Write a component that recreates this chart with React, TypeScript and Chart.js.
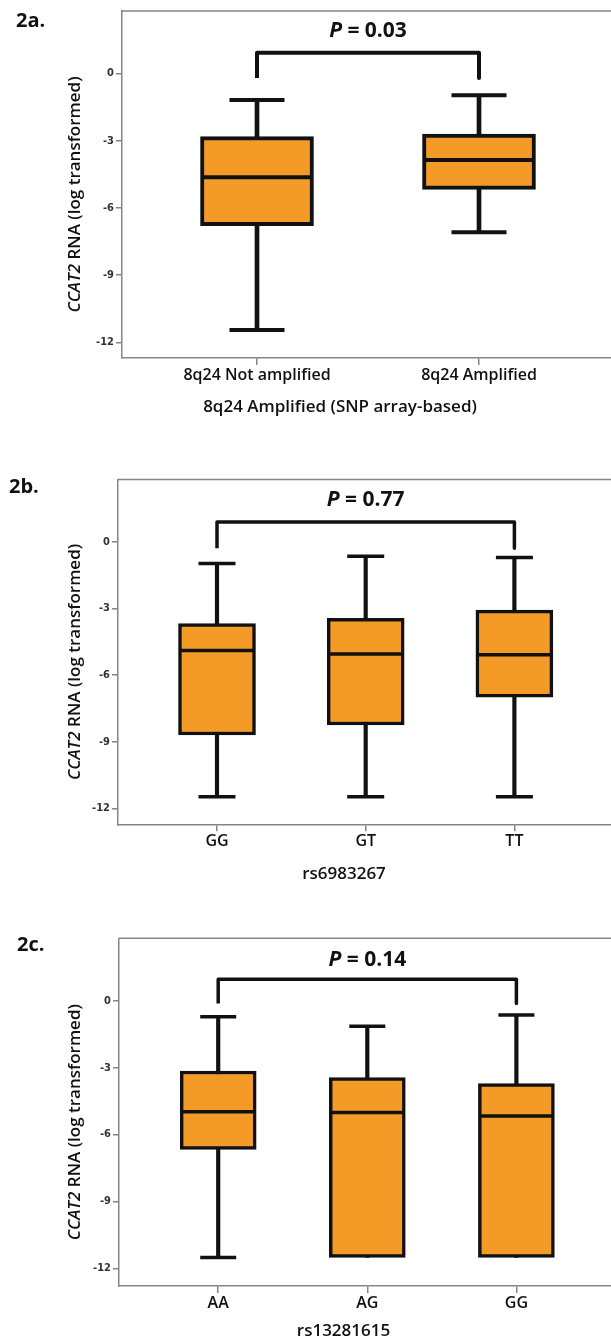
import React, { useEffect, useRef } from "react";
import { Chart, registerables } from "chart.js";

Chart.register(...registerables);

// ---------- data ----------
// Panel 2a
const catsA = ["8q24 Not amplified", "8q24 Amplified"];
const lowA = [-11.45, -7.09];
const q1A = [-6.79, -5.17];
const medA = [-4.63, -3.86];
const q3A = [-2.82, -2.7];
const highA = [-1.18, -0.97];
const pValueA = "0.03";
const xTitleA = "8q24 Amplified (SNP array-based)";

// Panel 2b
const catsB = ["GG", "GT", "TT"];
const lowB = [-11.48, -11.48, -11.48];
const q1B = [-8.7, -8.25, -7.0];
const medB = [-4.9, -5.06, -5.09];
const q3B = [-3.68, -3.45, -3.08];
const highB = [-0.98, -0.65, -0.71];
const pValueB = "0.77";
const xTitleB = "rs6983267";

// Panel 2c
const catsC = ["AA", "AG", "GG"];
const lowC = [-11.51, -11.51, -11.51];
const q1C = [-6.67, -11.51, -11.51];
const medC = [-4.98, -5.01, -5.17];
const q3C = [-3.15, -3.44, -3.71];
const highC = [-0.72, -1.14, -0.64];
const pValueC = "0.14";
const xTitleC = "rs13281615";

// bracket (top level and leg ends, in axis units)
const bracketTop = [0.93, 0.89, 0.96];
const bracketLeg = [-0.2, -0.3, -0.12];

const yTickValues = [-12, -9, -6, -3, 0];
const yTitleItalic = "CCAT2";
const yTitleRest = " RNA (log transformed)";

// ---------- styles ----------
const ORANGE = "#F39B26";
const INK = "#111111";
const FRAME = "#858585";
const TEXT_FONT = '"Open Sans", "Noto Sans", sans-serif';
const TICK_FONT = '"Liberation Sans Narrow", "DejaVu Sans Condensed", "Liberation Sans", sans-serif';
const CANVAS_W = 640;

const annotPlugin = {
  id: "annot",
  afterDraw(chart: any, _args: any, opts: any) {
    const ctx = chart.ctx as CanvasRenderingContext2D;
    const { left, top, right, bottom } = chart.chartArea;
    const xs = chart.scales.x;
    const ys = chart.scales.y;
    ctx.save();
    // top frame line
    ctx.strokeStyle = FRAME;
    ctx.lineWidth = 1.5;
    ctx.beginPath();
    ctx.moveTo(left, top);
    ctx.lineTo(right, top);
    ctx.stroke();

    // panel label
    ctx.fillStyle = INK;
    ctx.font = `bold 20px ${TEXT_FONT}`;
    ctx.textAlign = "left";
    ctx.textBaseline = "middle";
    ctx.fillText(opts.label, opts.labelX, opts.labelY);

    // p-value
    const cx = (xs.getPixelForValue(0) + xs.getPixelForValue(opts.n - 1)) / 2;
    const cy = ys.getPixelForValue(opts.bracketTop) - opts.pGap;
    const fItal = `italic bold 21px ${TEXT_FONT}`;
    const fBold = `bold 21px ${TEXT_FONT}`;
    ctx.font = fItal;
    const w1 = ctx.measureText("P").width;
    ctx.font = fBold;
    const rest = " = " + opts.p;
    const w2 = ctx.measureText(rest).width;
    const sx = cx - (w1 + w2) / 2;
    ctx.font = fItal;
    ctx.fillText("P", sx, cy);
    ctx.font = fBold;
    ctx.fillText(rest, sx + w1, cy);

    // x title
    ctx.font = `600 17px ${TEXT_FONT}`;
    ctx.textAlign = "center";
    ctx.fillText(opts.xTitle, opts.xTitleX, opts.xTitleY);

    // y title (rotated, mixed italic)
    const yc = (top + bottom) / 2 + 10;
    const fI = `italic 600 17px ${TEXT_FONT}`;
    const fN = `600 17px ${TEXT_FONT}`;
    ctx.font = fI;
    const a = ctx.measureText(yTitleItalic).width;
    ctx.font = fN;
    const b = ctx.measureText(yTitleRest).width;
    ctx.translate(opts.yTitleX, yc);
    ctx.rotate(-Math.PI / 2);
    ctx.textAlign = "left";
    const start = -(a + b) / 2;
    ctx.font = fI;
    ctx.fillText(yTitleItalic, start, 0);
    ctx.font = fN;
    ctx.fillText(yTitleRest, start + a, 0);
    ctx.restore();
  },
};

type PanelProps = {
  top: number;
  height: number;
  cats: string[];
  low: number[];
  q1: number[];
  med: number[];
  q3: number[];
  high: number[];
  idx: number;
  p: string;
  xTitle: string;
  label: string;
  labelX: number;
  labelY: number;
  areaLeft: number;
  areaTop: number;
  areaBottom: number;
  areaRight: number;
  catFirstPx: number;
  catStepPx: number;
  boxW: number;
  capW: number;
  lw: number;
  xTitleX: number;
  xTitleY: number;
  pGap: number;
  yMin: number;
  yMax: number;
};

function Panel(props: PanelProps) {
  const ref = useRef<HTMLCanvasElement | null>(null);
  useEffect(() => {
    const el = ref.current;
    if (!el) return;
    const {
      cats, low, q1, med, q3, high, idx, height,
      areaLeft, areaTop, areaBottom, areaRight, catFirstPx, catStepPx,
      boxW, capW, lw,
    } = props;
    const n = cats.length;
    const xMin = -(catFirstPx - areaLeft) / catStepPx;
    const xMax = (areaRight - catFirstPx) / catStepPx;

    const boxes = cats.map((_, i) => ({ x: i, y: [q1[i], q3[i]] }));
    const whiskers = cats.map((_, i) => ({ x: i, y: [low[i], high[i]] }));
    const caps = [
      ...cats
        .map((_, i) => ({ x: i, y: low[i], show: low[i] < q1[i] - 0.01 }))
        .filter((d) => d.show)
        .map(({ x, y }) => ({ x, y })),
      ...cats.map((_, i) => ({ x: i, y: high[i] })),
    ];
    const medians = cats.map((_, i) => ({ x: i, y: med[i] }));
    const bracket = [
      { x: 0, y: bracketLeg[idx] },
      { x: 0, y: bracketTop[idx] },
      { x: n - 1, y: bracketTop[idx] },
      { x: n - 1, y: bracketLeg[idx] },
    ];

    const chart = new Chart(el, {
      type: "bar",
      data: {
        datasets: [
          {
            type: "line",
            data: medians,
            showLine: false,
            pointStyle: "line",
            pointRadius: boxW / 2 - 1,
            pointBorderWidth: lw,
            pointBorderColor: INK,
            order: 0,
          } as any,
          {
            type: "line",
            data: caps,
            showLine: false,
            pointStyle: "line",
            pointRadius: capW / 2,
            pointBorderWidth: lw,
            pointBorderColor: INK,
            order: 1,
          } as any,
          {
            type: "bar",
            data: boxes,
            backgroundColor: ORANGE,
            borderColor: INK,
            borderWidth: lw,
            borderSkipped: false,
            barThickness: boxW,
            grouped: false,
            order: 2,
          } as any,
          {
            type: "bar",
            data: whiskers,
            backgroundColor: INK,
            borderWidth: 0,
            barThickness: lw,
            grouped: false,
            order: 3,
          } as any,
          {
            type: "line",
            data: bracket,
            borderColor: INK,
            borderWidth: lw,
            borderJoinStyle: "round",
            pointRadius: 0,
            tension: 0,
            order: 4,
          } as any,
        ],
      },
      options: {
        responsive: false,
        animation: false,
        devicePixelRatio: 1,
        events: [],
        layout: {
          autoPadding: false,
          padding: { left: 0, top: areaTop, right: CANVAS_W - areaRight, bottom: 0 },
        },
        plugins: {
          legend: { display: false },
          tooltip: { enabled: false },
          annot: {
            label: props.label,
            labelX: props.labelX,
            labelY: props.labelY,
            n,
            bracketTop: bracketTop[idx],
            p: props.p,
            pGap: props.pGap,
            xTitle: props.xTitle,
            xTitleX: props.xTitleX,
            xTitleY: props.xTitleY,
            yTitleX: 75,
          },
        } as any,
        scales: {
          x: {
            type: "linear",
            min: xMin,
            max: xMax,
            offset: false,
            afterFit: (s: any) => {
              s.height = height - areaBottom;
            },
            afterBuildTicks: (s: any) => {
              s.ticks = cats.map((_, i) => ({ value: i }));
            },
            grid: {
              offset: false,
              drawOnChartArea: false,
              drawTicks: true,
              tickLength: 7,
              color: FRAME,
              lineWidth: 1.5,
            },
            border: { display: true, color: FRAME, width: 1.5 },
            ticks: {
              autoSkip: false,
              maxRotation: 0,
              padding: 1,
              color: INK,
              font: { family: TEXT_FONT, size: 16, weight: "600" },
              callback: (v: any) => cats[Math.round(Number(v))] ?? "",
            },
          },
          y: {
            type: "linear",
            min: props.yMin,
            max: props.yMax,
            afterFit: (s: any) => {
              s.width = areaLeft;
            },
            afterBuildTicks: (s: any) => {
              s.ticks = yTickValues.map((v) => ({ value: v }));
            },
            grid: {
              drawOnChartArea: false,
              drawTicks: true,
              tickLength: 6,
              color: FRAME,
              lineWidth: 1.5,
            },
            border: { display: true, color: FRAME, width: 1.5 },
            ticks: {
              padding: 2,
              color: "#333",
              font: { family: TICK_FONT, size: 11, weight: "bold" },
              callback: (v: any) => String(v),
            },
          },
        },
      } as any,
      plugins: [annotPlugin as any],
    });
    return () => chart.destroy();
  }, []);
  return (
    <canvas
      ref={ref}
      width={CANVAS_W}
      height={props.height}
      style={{ position: "absolute", left: 0, top: props.top, width: CANVAS_W, height: props.height }}
    />
  );
}

export default function App() {
  return (
    <div
      style={{
        position: "absolute",
        left: 0,
        top: 0,
        width: 611,
        height: 1338,
        overflow: "hidden",
        background: "#ffffff",
      }}
    >
      <Panel
        top={0}
        height={440}
        cats={catsA}
        low={lowA}
        q1={q1A}
        med={medA}
        q3={q3A}
        high={highA}
        idx={0}
        p={pValueA}
        xTitle={xTitleA}
        label="2a."
        labelX={16}
        labelY={21}
        areaLeft={122}
        areaTop={11}
        areaBottom={358}
        areaRight={630}
        catFirstPx={257}
        catStepPx={222}
        boxW={113}
        capW={55}
        lw={4}
        xTitleX={340}
        xTitleY={407}
        pGap={22}
        yMin={-12.7}
        yMax={2.79}
      />
      <Panel
        top={440}
        height={450}
        cats={catsB}
        low={lowB}
        q1={q1B}
        med={medB}
        q3={q3B}
        high={highB}
        idx={1}
        p={pValueB}
        xTitle={xTitleB}
        label="2b."
        labelX={9}
        labelY={47}
        areaLeft={118}
        areaTop={39.5}
        areaBottom={384.3}
        areaRight={630}
        catFirstPx={217}
        catStepPx={148.7}
        boxW={77}
        capW={37}
        lw={3.5}
        xTitleX={344}
        xTitleY={434}
        pGap={22}
        yMin={-12.72}
        yMax={2.8}
      />
      <Panel
        top={890}
        height={448}
        cats={catsC}
        low={lowC}
        q1={q1C}
        med={medC}
        q3={q3C}
        high={highC}
        idx={2}
        p={pValueC}
        xTitle={xTitleC}
        label="2c."
        labelX={17}
        labelY={55}
        areaLeft={119}
        areaTop={48.3}
        areaBottom={396}
        areaRight={630}
        catFirstPx={218.2}
        catStepPx={149.1}
        boxW={76}
        capW={36}
        lw={3.5}
        xTitleX={343.5}
        xTitleY={440.7}
        pGap={19}
        yMin={-12.79}
        yMax={2.8}
      />
    </div>
  );
}
